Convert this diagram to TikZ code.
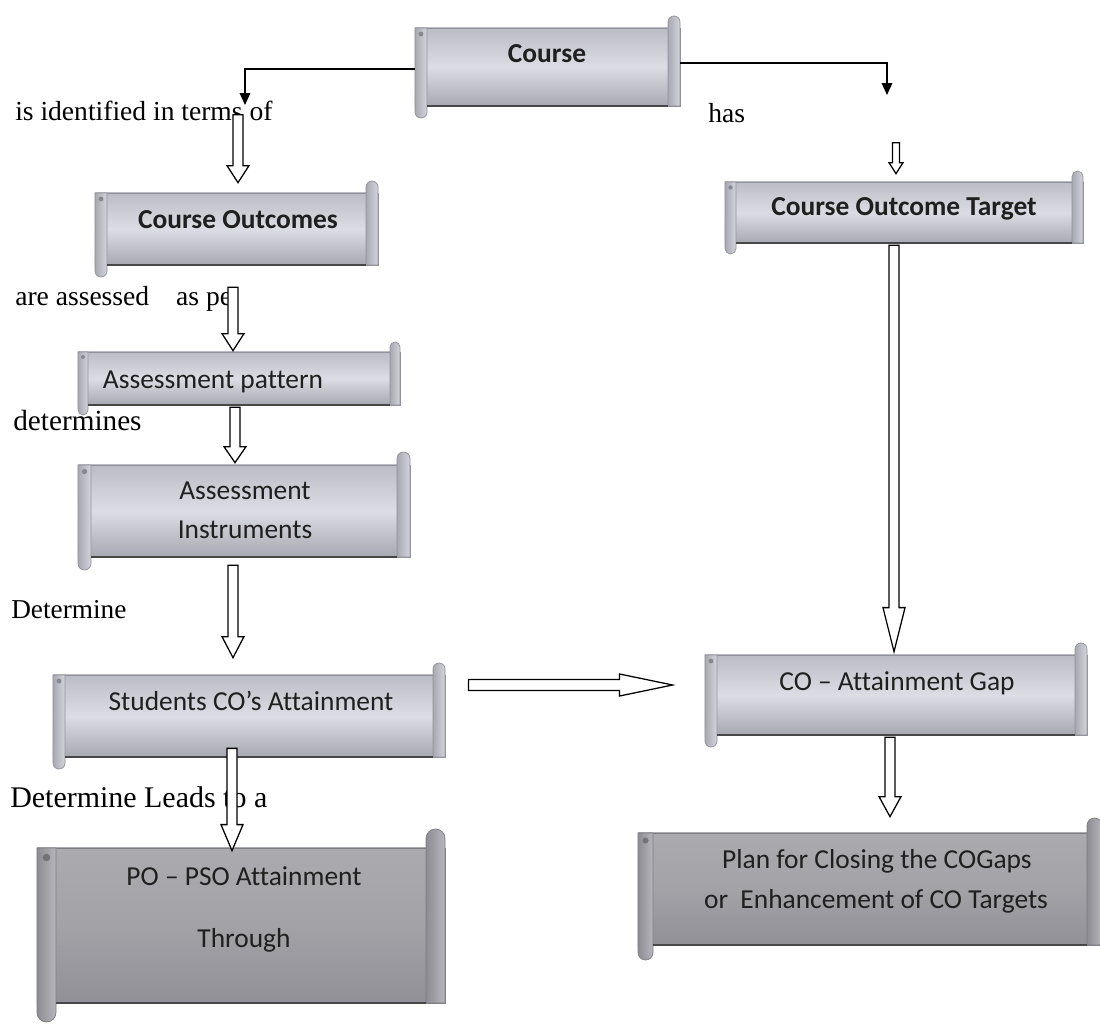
\documentclass[tikz,border=0pt]{standalone}
\usepackage{fontspec}
\setmainfont{Liberation Serif}
\newfontfamily\calib[Ligatures=NoCommon]{Carlito}
\usetikzlibrary{calc,arrows.meta}

% one drawing unit = one pixel of the sheet
\def\pxu{0.71132pt}

% light scrolls
\definecolor{ltop}{RGB}{188,188,198}
\definecolor{lmid}{RGB}{220,220,228}
\definecolor{lbot}{RGB}{168,168,178}
\definecolor{ledge}{RGB}{145,145,155}
\definecolor{lrollA}{RGB}{168,168,178}
\definecolor{lrollB}{RGB}{212,212,220}
\definecolor{ldot}{RGB}{135,135,145}
% dark scrolls
\definecolor{dtop}{RGB}{170,170,175}
\definecolor{dmid}{RGB}{162,162,167}
\definecolor{dbot}{RGB}{144,144,150}
\definecolor{dedge}{RGB}{125,125,131}
\definecolor{drollA}{RGB}{140,140,146}
\definecolor{drollB}{RGB}{182,182,188}
\definecolor{ddot}{RGB}{115,115,120}

\tikzset{
  scrollbody/.style={shape=rectangle, inner sep=0pt, draw=#1edge, line width=0.5pt,
    top color=#1top, bottom color=#1bot, middle color=#1mid},
  rollpart/.style={draw=#1edge, line width=0.5pt, left color=#1rollA, right color=#1rollB},
  scrolledge/.style={draw=black!72, line width=1.3pt},
  boxtext/.style={anchor=base, inner sep=0pt, text=black!88, font=\calib\fontsize{19.5}{24}\selectfont},
  boxbold/.style={boxtext, font=\calib\bfseries\fontsize{19.5}{24}\selectfont},
  linklabel/.style={anchor=base west, inner sep=0pt, font=\fontsize{19.6}{24}\selectfont},
  conn/.style={draw=black, line width=1pt, -{Triangle[width=7.5pt,length=8.5pt]}},
  blockarrow/.style={draw=black, fill=white, line width=0.9pt},
  % hollow block arrow pointing down: shaft half width, head half width, head length
  hdown/.style n args={3}{blockarrow, to path={
    let \p1=(\tikztostart), \p2=(\tikztotarget) in
    (\x1-#1*\pxu,\y1) -- (\x1-#1*\pxu,\y2+#3*\pxu) -- (\x1-#2*\pxu,\y2+#3*\pxu)
    -- (\x1,\y2) -- (\x1+#2*\pxu,\y2+#3*\pxu) -- (\x1+#1*\pxu,\y2+#3*\pxu)
    -- (\x1+#1*\pxu,\y1) -- cycle}},
  % hollow block arrow pointing right
  hright/.style n args={3}{blockarrow, to path={
    let \p1=(\tikztostart), \p2=(\tikztotarget) in
    (\x1,\y1+#1*\pxu) -- (\x2-#3*\pxu,\y1+#1*\pxu) -- (\x2-#3*\pxu,\y1+#2*\pxu)
    -- (\x2,\y1) -- (\x2-#3*\pxu,\y1-#2*\pxu) -- (\x2-#3*\pxu,\y1-#1*\pxu)
    -- (\x1,\y1-#1*\pxu) -- cycle}},
}

% horizontal scroll: name, left, top, right, bottom, roll size, colour scheme (l/d)
\newcommand{\scrollbox}[7]{%
  \node[scrollbody=#7, minimum width={(#4-#2)*\pxu}, minimum height={(#5-#3)*\pxu}]
    (#1) at ({(#2+#4)/2},{(#3+#5)/2}) {};
  \draw[rollpart=#7] (#4-#6,#5) -- (#4-#6,#3-#6/2)
    arc[start angle=180,end angle=0,radius={#6/2*\pxu}] -- (#4,#5) -- cycle;
  \draw[rollpart=#7] (#2,#3) -- (#2,#5+#6/2)
    arc[start angle=180,end angle=360,radius={#6/2*\pxu}] -- (#2+#6,#3) -- cycle;
  \draw[scrolledge] (#2+#6,#5) -- (#4-#6,#5);
  \fill[#7dot] (#2+#6/2,#3+#6/2) circle[radius={#6/5*\pxu}];
}

\begin{document}
\begin{tikzpicture}[x=0.025cm,y=-0.025cm]
\useasboundingbox[fill=white] (0,0) rectangle (1100,1025);

% scrolls
\scrollbox{course}{415}{28}{680}{106}{12}{l}
\scrollbox{co}{95}{193}{378}{265}{12}{l}
\scrollbox{cot}{725}{182}{1083}{243}{11}{l}
\scrollbox{ap}{78}{352}{400}{405}{10}{l}
\scrollbox{ai}{78}{465}{410}{557}{13}{l}
\scrollbox{sca}{53}{675}{445}{757}{12}{l}
\scrollbox{gap}{705}{655}{1087}{735}{12}{l}
\scrollbox{po}{37}{848}{445}{1003}{19}{d}
\scrollbox{plan}{638}{833}{1102}{945}{15}{d}

% scroll texts
\node[boxbold] (course-t) at (547,63) {Course};
\node[boxbold] (co-t) at (238,228) {Course Outcomes};
\node[boxbold] (cot-t) at (904,215) {Course Outcome Target};
\node[boxtext] (ap-t) at (213,388) {Assessment pattern};
\node[boxtext] (ai-t1) at (245,499) {Assessment};
\node[boxtext] (ai-t2) at (245,538) {Instruments};
\node[boxtext] (sca-t) at (251,710) {Students CO’s Attainment};
\node[boxtext] (gap-t) at (897,690) {CO – Attainment Gap};
\node[boxtext] (po-t1) at (244,885) {PO – PSO Attainment};
\node[boxtext] (po-t2) at (244,947) {Through};
\node[boxtext] (plan-t1) at (877,868) {Plan for Closing the COGaps};
\node[boxtext] (plan-t2) at (876,908) {or\ \ Enhancement of CO Targets};

% link labels
\node[linklabel] (l-ident) at (15,120) {is identified in terms of};
\node[linklabel] (l-has) at (708,123) {has};
\node[linklabel] (l-assess) at (15,305) {are assessed\hspace{0.98em}as pe};
\node[linklabel, font=\fontsize{20.8}{24}\selectfont] (l-det1) at (13,430) {determines};
\node[linklabel, font=\fontsize{19.4}{24}\selectfont] (l-det2) at (11,618) {Determine};
\node[linklabel, font=\fontsize{21.3}{24}\selectfont] (l-det3) at (10,807) {Determine Leads to a};

% connectors out of the course
\coordinate (tipL) at (245,105);
\coordinate (tipR) at (887,95);
\draw[conn] ($(course.west)+(0,2)$) -| (tipL);
\draw[conn] ($(course.east)+(0,-4)$) -| (tipR);

% hollow block arrows
\draw[hdown={5}{11}{17}] ($(co.north)+(1.5,-78)$) to ($(co.north)+(1.5,-10)$);
\draw[hdown={3.5}{7}{11}] ($(cot.north)+(-8,-39)$) to ($(cot.north)+(-8,-8)$);
\draw[hdown={5}{11}{17}] ($(co.south)+(-3.5,22)$) to ($(ap.north)+(-6,-1)$);
\draw[hdown={5}{11}{16}] ($(ap.south)+(-4,2)$) to ($(ai.north)+(-9,-2)$);
\draw[hdown={5}{11}{21}] ($(ai.south)+(-11,8)$) to ($(sca.north)+(-16,-17)$);
\draw[hdown={5}{11}{26}] ($(sca.south)+(-17,-9)$) to ($(po.north)+(-9,3)$);
\draw[hdown={5}{11}{44}] ($(cot.south)+(-10,2)$) to ($(gap.north)+(-3,-3)$);
\draw[hdown={5}{11}{20}] ($(gap.south)+(-6,2)$) to ($(plan.north)+(20,-16)$);
\draw[hright={5.5}{11}{53}] ($(sca.east)+(23,-31)$) to ($(gap.west)+(-32,-10)$);
\end{tikzpicture}
\end{document}
